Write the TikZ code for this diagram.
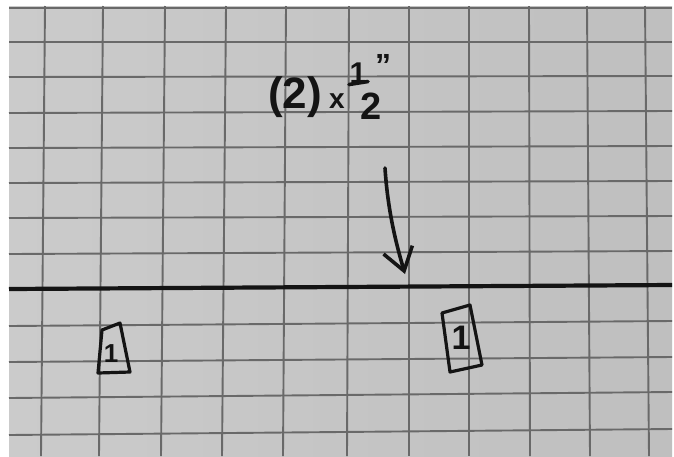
\documentclass[tikz,border=0pt]{standalone}
\usepackage{fontspec}
\setmainfont{Liberation Sans}
\usetikzlibrary{arrows.meta}
\definecolor{paperL}{RGB}{203,203,203}
\definecolor{paperR}{RGB}{191,191,191}
\definecolor{gridc}{RGB}{105,105,105}
\definecolor{inkc}{RGB}{20,20,20}
\begin{document}
\begin{tikzpicture}[x=1pt,y=-1pt,
  gridline/.style={draw=gridc,line width=1.9pt},
  inkline/.style={draw=inkc,line width=3.6pt,line cap=round,line join=round},
  handtext/.style={text=inkc,inner sep=0pt}]
\useasboundingbox (0,0) rectangle (674,456);
\fill[white] (0,0) rectangle (674,456);
\shade[left color=paperL,right color=paperR] (9,6) rectangle (672,456);
% grid
\foreach \a/\b in {45/41,103/99,165/161,226/222,286/283,349/347,409/409,469/469,529/530,587/590,645/649}
  \draw[gridline] (\a,6) -- (\b,456);
\foreach \a/\b in {8/8,42/42,77/76,113/111,148/146,183/181,218/216,254/251,326/321,362/357,398/392,435/429}
  \draw[gridline] (9,\a) -- (672,\b);
% thick base line
\draw[draw=inkc,line width=4.2pt] (9,289) -- (672,285);
% label
\node[handtext,font=\bfseries\fontsize{44}{46}\selectfont] (mult) at (295,97) {(2)};
\node[handtext,font=\bfseries\fontsize{28}{30}\selectfont] (times) at (337,101) {x};
\node[handtext,font=\bfseries\fontsize{30}{32}\selectfont] (num) at (358,73) {1};
\node[handtext,font=\bfseries\fontsize{38}{40}\selectfont] (den) at (371,106) {2};
\node[handtext,font=\bfseries\fontsize{32}{34}\selectfont,anchor=north] (inch) at (383,54) {"};
\draw[inkline] ([shift={(-9,1)}]num.south) -- ([shift={(10,-2)}]num.south);
% arrow
\coordinate (astart) at (385,168);
\coordinate (atip) at (405,274);
\draw[inkline,-{Straight Barb[length=22pt,width=30pt,line width=3.6pt]}]
  (astart) .. controls (388,215) and (398,250) .. (atip);
% boxed ones
\node[handtext,font=\bfseries\fontsize{26}{28}\selectfont] (one1) at (111,354) {1};
\draw[inkline,line width=3.2pt] ([shift={(-9,-24)}]one1.center) -- ([shift={(9,-31)}]one1.center)
  -- ([shift={(19,18)}]one1.center) -- ([shift={(-13,19)}]one1.center) -- cycle;
\node[handtext,font=\bfseries\fontsize{34}{36}\selectfont] (one2) at (461,338) {1};
\draw[inkline,line width=3.2pt] ([shift={(-19,-25)}]one2.center) -- ([shift={(9,-33)}]one2.center)
  -- ([shift={(21,27)}]one2.center) -- ([shift={(-11,34)}]one2.center) -- cycle;
\end{tikzpicture}
\end{document}
